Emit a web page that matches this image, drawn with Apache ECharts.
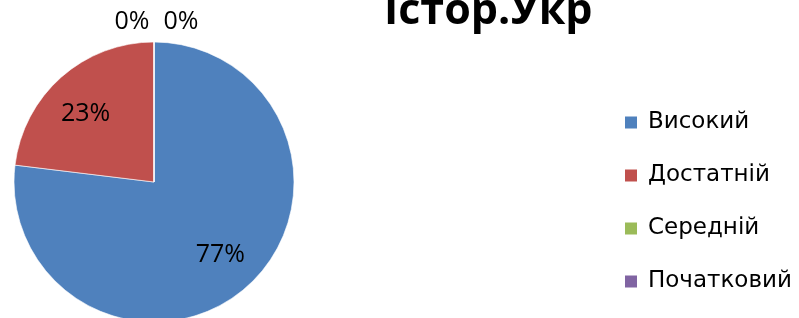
<!DOCTYPE html>
<html style="height: 100%">
    <head>
        <meta charset="utf-8">
    </head>
    <body style="height: 100%; margin: 0">
        <div id="container" style="width: 799px; height: 318px"></div>

        <script type="text/javascript" src="https://cdn.jsdelivr.net/npm/echarts@6/dist/echarts.min.js"></script>
        <script type="text/javascript">
var chartTitle = 'Істор.Укр';
var categories = ['Високий', 'Достатній', 'Середній', 'Початковий'];
var values = [10, 3, 0, 0];
var colors = ['#4F81BD', '#C0504D', '#9BBB59', '#8064A2'];

var dom = document.getElementById("container");
var myChart = echarts.init(dom);
var option;

var CX = 154, CY = 182, R = 140;
var FONT = '"Open Sans", "Noto Sans", sans-serif';

var data = [];
for (var i = 0; i < categories.length; i++) {
    data.push({
        name: categories[i],
        value: values[i],
        itemStyle: { color: colors[i] }
    });
}

option = {
    title: {
        text: chartTitle,
        left: 379,
        top: -15,
        textStyle: {
            fontFamily: FONT,
            fontWeight: 'bold',
            fontSize: 43,
            color: '#000'
        }
    },
    legend: {
        orient: 'vertical',
        left: 618,
        top: 106,
        itemWidth: 14,
        itemHeight: 14,
        itemGap: 30,
        icon: 'rect',
        data: categories,
        textStyle: {
            fontFamily: '"DejaVu Sans", sans-serif',
            fontSize: 23,
            color: '#000',
            padding: [0, 0, 0, 5]
        }
    },
    series: [{
        type: 'pie',
        center: [CX, CY],
        radius: R,
        startAngle: 90,
        clockwise: true,
        animation: false,
        silent: true,
        avoidLabelOverlap: false,
        itemStyle: {
            borderColor: '#fff',
            borderWidth: 0.6
        },
        label: {
            show: true,
            position: 'inside',
            fontFamily: FONT,
            fontSize: 25,
            color: '#000',
            formatter: function (p) {
                return Math.round(p.percent) + '%';
            }
        },
        labelLine: { show: false },
        labelLayout: function (p) {
            var r = p.labelRect;
            var nx, ny;
            if (p.dataIndex > 1) {
                // zero slices: labels sit side by side above the top of the pie
                nx = CX + (p.dataIndex === 2 ? -22 : 27);
                ny = CY - R - 20;
            } else {
                var k = 1.33;
                nx = CX + (r.x + r.width / 2 - CX) * k;
                ny = CY + (r.y + r.height / 2 - CY) * k;
                if (p.dataIndex === 1) { nx -= 4; ny += 5; }
                else { nx += 2; }
            }
            return { x: nx - r.width / 2, y: ny - r.height / 2, align: 'left', verticalAlign: 'top' };
        },
        data: data
    }]
};

myChart.setOption(option);
        </script>
    </body>
</html>
